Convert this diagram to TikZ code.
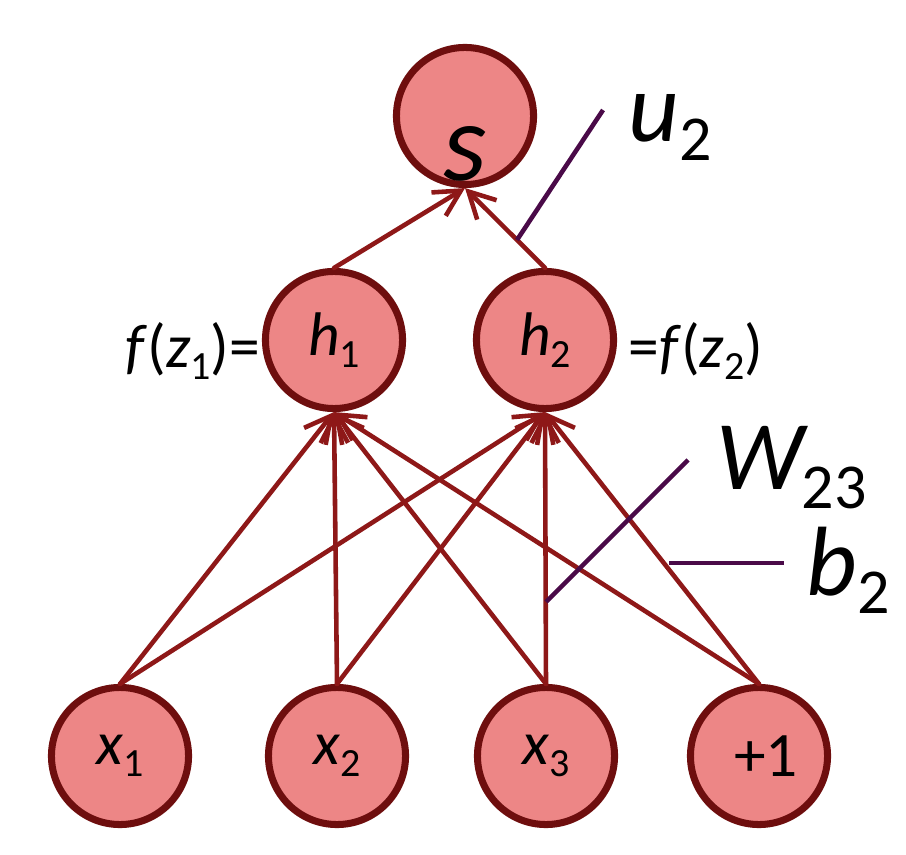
\documentclass[tikz,border=0pt]{standalone}
\usepackage{fontspec}
\setmainfont{Carlito}
\usepackage{graphicx}
\usetikzlibrary{arrows.meta}
\definecolor{nodefill}{RGB}{237,134,134}
\definecolor{noderim}{RGB}{110,14,14}
\definecolor{edgecol}{RGB}{142,24,24}
\definecolor{notecol}{RGB}{74,10,72}
\newcommand{\low}[1]{\raisebox{-0.19em}{\scalebox{0.65}{\upshape #1}}}

\begin{document}
\begin{tikzpicture}[line cap=round,line join=round,>={Straight Barb[length=7.4pt,width=7.8pt]},x=0.01cm,y=0.01cm,
	unit/.style={circle,draw=noderim,fill=nodefill,line width=2pt,minimum size=1.37cm,inner sep=0pt,font=\fontsize{17.5}{20}\selectfont\itshape},
	wire/.style={->,draw=edgecol,line width=1.3pt},
	note/.style={draw=notecol,line width=1.3pt,line cap=butt},
	big/.style={font=\fontsize{28}{32}\selectfont,anchor=base west,inner sep=0pt},
	side/.style={font=\fontsize{17.5}{20}\selectfont,inner sep=0pt}]
		\useasboundingbox (0,0) rectangle (906,854);
		% input layer
		\node[unit] (x1) at (120,98) {x\low{1}};
		\node[unit] (x2) at (337,98) {x\low{2}};
		\node[unit] (x3) at (546,98) {x\low{3}};
		\node[unit,font=\fontsize{18}{20}\selectfont] (one) at (759,98) {\hspace{4pt}+1};
		% hidden layer and score
		\node[unit] (h1) at (334,514) {h\low{1}};
		\node[unit] (h2) at (545,514) {h\low{2}};
		\node[unit,font=\fontsize{31.7}{36}\selectfont\itshape] (s) at (465,738) {\raisebox{-0.64cm}[0pt][0pt]{s}};
		\foreach \a in {x1,x2,x3,one} {
			\draw[wire] (\a.north) -- (h1.south);
			\draw[wire] (\a.north) -- (h2.south);
		}
		\draw[wire] (h1.north) -- (s.south);
		\draw[wire] (h2.north) -- (s.south);
		% side labels
		\node[side,anchor=base east] (fz1) at (261,486) {\textit{f}(\textit{z}\low{1})=};
		\node[side,anchor=base west] (fz2) at (628,486) {=\textit{f}(\textit{z}\low{2})};
		% pointers
		\coordinate (ua) at (517,614);
		\coordinate (ub) at (603,744);
		\draw[note] (ua) -- (ub);
		\node[big] (ulbl) at (628,712) {\textit{u}\low{2}};
		\coordinate (wa) at (546,252);
		\coordinate (wb) at (688,394);
		\draw[note] (wa) -- (wb);
		\node[big] (wlbl) at (716,364) {\textit{W}\hspace{-2pt}\low{23}};
		\coordinate (ba) at (669,291);
		\coordinate (bb) at (784,291);
		\draw[note] (ba) -- (bb);
		\node[big] (blbl) at (806,259) {\textit{b}\low{2}};
	\end{tikzpicture}
\end{document}
